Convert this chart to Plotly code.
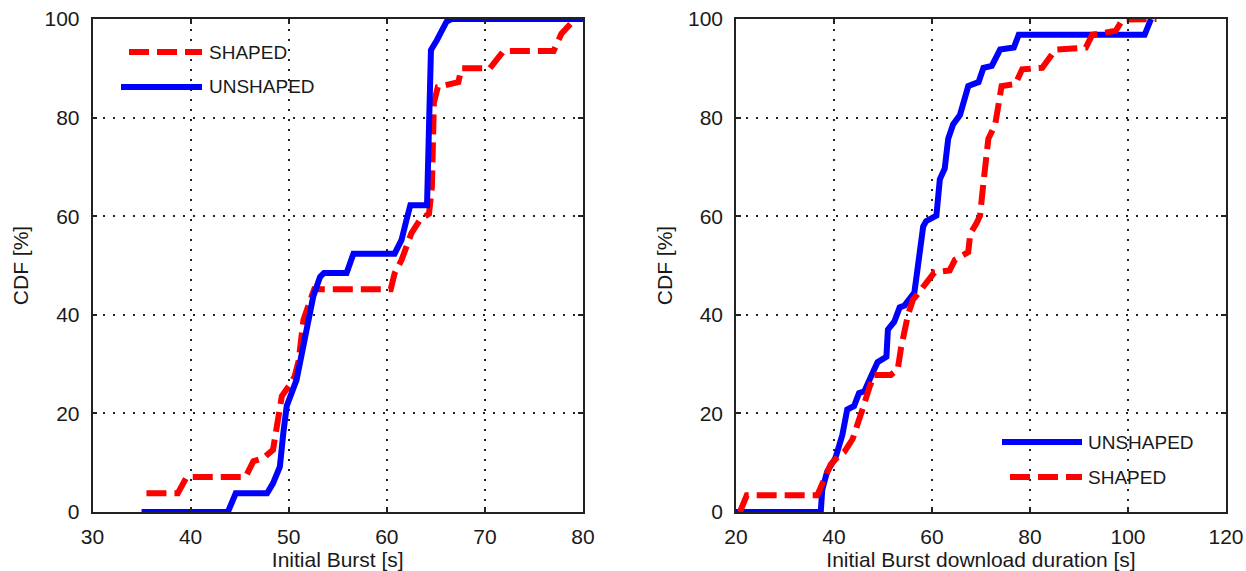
import plotly.graph_objects as go

# ---------------- data ----------------
left_shaped_x = [35.5, 38.7, 39.6, 45.6, 46.4, 47.4, 48.4, 48.9, 49.3, 50.0, 50.6, 51.0, 51.5,
                 52.2, 52.6, 60.4, 60.8, 61.5, 62.5, 63.4, 64.3, 64.6, 64.8, 65.2, 67.3, 67.6,
                 70.5, 71.9, 77.0, 77.8, 78.9, 79.4, 80.0]
left_shaped_y = [3.8, 3.8, 7.1, 7.1, 10.3, 10.9, 12.6, 18.7, 23.5, 25.5, 27.5, 30.5, 38.9,
                 43.0, 45.2, 45.2, 48.4, 51.1, 56.5, 59.3, 60.5, 66.0, 83.0, 86.2, 87.2, 90.0,
                 90.0, 93.5, 93.5, 97.0, 99.4, 100, 100]

left_unshaped_x = [35.0, 43.8, 44.6, 47.8, 48.4, 49.1, 49.45, 49.8, 50.8, 51.8, 52.5, 53.2, 53.6,
                   55.9, 56.6, 60.8, 61.5, 62.0, 62.4, 64.1, 64.3, 64.5, 65.1, 66.1, 66.6, 80.0]
left_unshaped_y = [0, 0, 3.8, 3.8, 5.8, 9.2, 16.0, 21.5, 26.8, 36.9, 43.7, 47.7, 48.5,
                   48.5, 52.4, 52.4, 55.2, 59.2, 62.2, 62.2, 80.0, 93.7, 95.7, 99.5, 100, 100]

right_unshaped_x = [20.0, 37.3, 37.6, 38.6, 40.3, 41.7, 42.7, 44.1, 45.1, 46.2, 48.2, 48.9, 50.7,
                    51.0, 52.3, 53.4, 54.4, 56.4, 57.1, 58.2, 58.8, 60.9, 61.6, 62.6, 63.3, 64.3,
                    65.7, 67.4, 69.5, 70.5, 72.2, 73.9, 76.7, 77.7, 103.4, 104.7]
right_unshaped_y = [0, 0, 4.5, 8.2, 11.0, 15.6, 20.8, 21.5, 24.1, 24.5, 28.9, 30.4, 31.5,
                    37.0, 38.6, 41.5, 41.9, 44.5, 49.7, 57.9, 59.0, 60.1, 67.5, 69.7, 75.7, 78.6,
                    80.5, 86.4, 87.2, 90.1, 90.5, 93.8, 94.2, 96.8, 96.8, 100]

right_shaped_x = [20.8, 22.2, 36.6, 37.3, 39.3, 40.7, 42.1, 43.8, 44.8, 45.8, 47.2, 48.2, 51.6,
                  53.0, 53.7, 54.4, 55.1, 56.1, 57.8, 59.2, 60.5, 63.6, 64.7, 67.4, 67.8, 69.1,
                  69.8, 70.5, 71.2, 71.5, 72.9, 73.6, 74.2, 77.0, 78.4, 82.5, 84.2, 85.2, 91.4,
                  92.7, 97.5, 98.9, 105.8]
right_shaped_y = [0, 3.4, 3.4, 5.2, 9.6, 11.1, 12.2, 14.8, 17.4, 20.8, 25.2, 27.8, 27.8,
                  28.9, 33.4, 37.1, 40.0, 43.0, 45.3, 46.7, 48.6, 49.0, 51.2, 52.7, 56.4, 58.6,
                  60.1, 66.8, 72.7, 75.7, 78.6, 83.1, 86.4, 86.8, 89.8, 90.1, 92.7, 93.8, 94.2,
                  96.8, 97.6, 99.9, 100]

left_xticks = [30, 40, 50, 60, 70, 80]
right_xticks = [20, 40, 60, 80, 100, 120]
yticks = [0, 20, 40, 60, 80, 100]

# ---------------- styling ----------------
W, H = 1246, 571
FONT = "Liberation Sans, Arial, sans-serif"
TXT = "#1a1a1a"
RED = "#ff0000"
BLUE = "#0000ff"
LW = 6
DASH = "20px,8px"

def px(x):
    return x / W

def py(y):
    return 1 - y / H

fig = go.Figure()

fig.add_trace(go.Scatter(x=left_shaped_x, y=left_shaped_y, mode="lines", name="SHAPED",
                         line=dict(color=RED, width=LW, dash=DASH), xaxis="x", yaxis="y"))
fig.add_trace(go.Scatter(x=left_unshaped_x, y=left_unshaped_y, mode="lines", name="UNSHAPED",
                         line=dict(color=BLUE, width=LW), xaxis="x", yaxis="y"))
fig.add_trace(go.Scatter(x=right_unshaped_x, y=right_unshaped_y, mode="lines", name="UNSHAPED",
                         line=dict(color=BLUE, width=LW), xaxis="x2", yaxis="y2"))
fig.add_trace(go.Scatter(x=right_shaped_x, y=right_shaped_y, mode="lines", name="SHAPED",
                         line=dict(color=RED, width=LW, dash=DASH), xaxis="x2", yaxis="y2"))

ydom = [py(512), py(19)]
axis_common = dict(
    showline=True, linecolor="#222", linewidth=1.5, mirror="ticks",
    ticks="inside", ticklen=5, tickwidth=1.5, tickcolor="#222",
    showgrid=True, gridcolor="#222", gridwidth=1.5, griddash="2px,8px",
    zeroline=False, tickfont=dict(family=FONT, size=21, color=TXT),
    fixedrange=True, automargin=False,
)
title_font = dict(family=FONT, size=21, color=TXT)

fig.update_layout(
    width=W, height=H, autosize=False,
    margin=dict(l=0, r=0, t=0, b=0, pad=0, autoexpand=False),
    paper_bgcolor="white", plot_bgcolor="white",
    showlegend=False,
    font=dict(family=FONT, size=21, color=TXT),
    xaxis=dict(domain=[px(92.5), px(583)], range=[30, 80], tickvals=left_xticks,
               anchor="y", ticklabelstandoff=5,
               title=dict(text="Initial Burst [s]", standoff=3, font=title_font),
               **axis_common),
    yaxis=dict(domain=ydom, range=[0, 100], tickvals=yticks, anchor="x",
               ticklabelstandoff=7,
               title=dict(text="CDF [%]", standoff=10, font=title_font),
               **axis_common),
    xaxis2=dict(domain=[px(736), px(1226)], range=[20, 120], tickvals=right_xticks,
                anchor="y2", ticklabelstandoff=5,
                title=dict(text="Initial Burst download duration [s]", standoff=3,
                           font=title_font),
                **axis_common),
    yaxis2=dict(domain=ydom, range=[0, 100], tickvals=yticks, anchor="x2",
                ticklabelstandoff=7,
                title=dict(text="CDF [%]", standoff=10, font=title_font),
                **axis_common),
)

# ---------------- legends (drawn as key lines + text) ----------------
legend_items = [
    # (x0, x1, y, color, dashed, label, text_x)
    (129, 202, 52, RED, True, "SHAPED", 207),
    (121, 202, 87, BLUE, False, "UNSHAPED", 207),
    (1002, 1082, 442, BLUE, False, "UNSHAPED", 1086),
    (1010, 1082, 477, RED, True, "SHAPED", 1086),
]
for x0, x1, y, col, dashed, label, tx in legend_items:
    fig.add_shape(type="line", xref="paper", yref="paper",
                  x0=px(x0), x1=px(x1), y0=py(y), y1=py(y),
                  line=dict(color=col, width=LW, dash=DASH if dashed else "solid"))
    fig.add_annotation(xref="paper", yref="paper", x=px(tx), y=py(y),
                       xanchor="left", yanchor="middle", showarrow=False,
                       text=label, font=dict(family=FONT, size=19, color=TXT))

fig.write_html(
    "out.html",
    config={"displayModeBar": False},
    post_script="document.body.style.margin='0';document.body.style.overflow='hidden';",
)
